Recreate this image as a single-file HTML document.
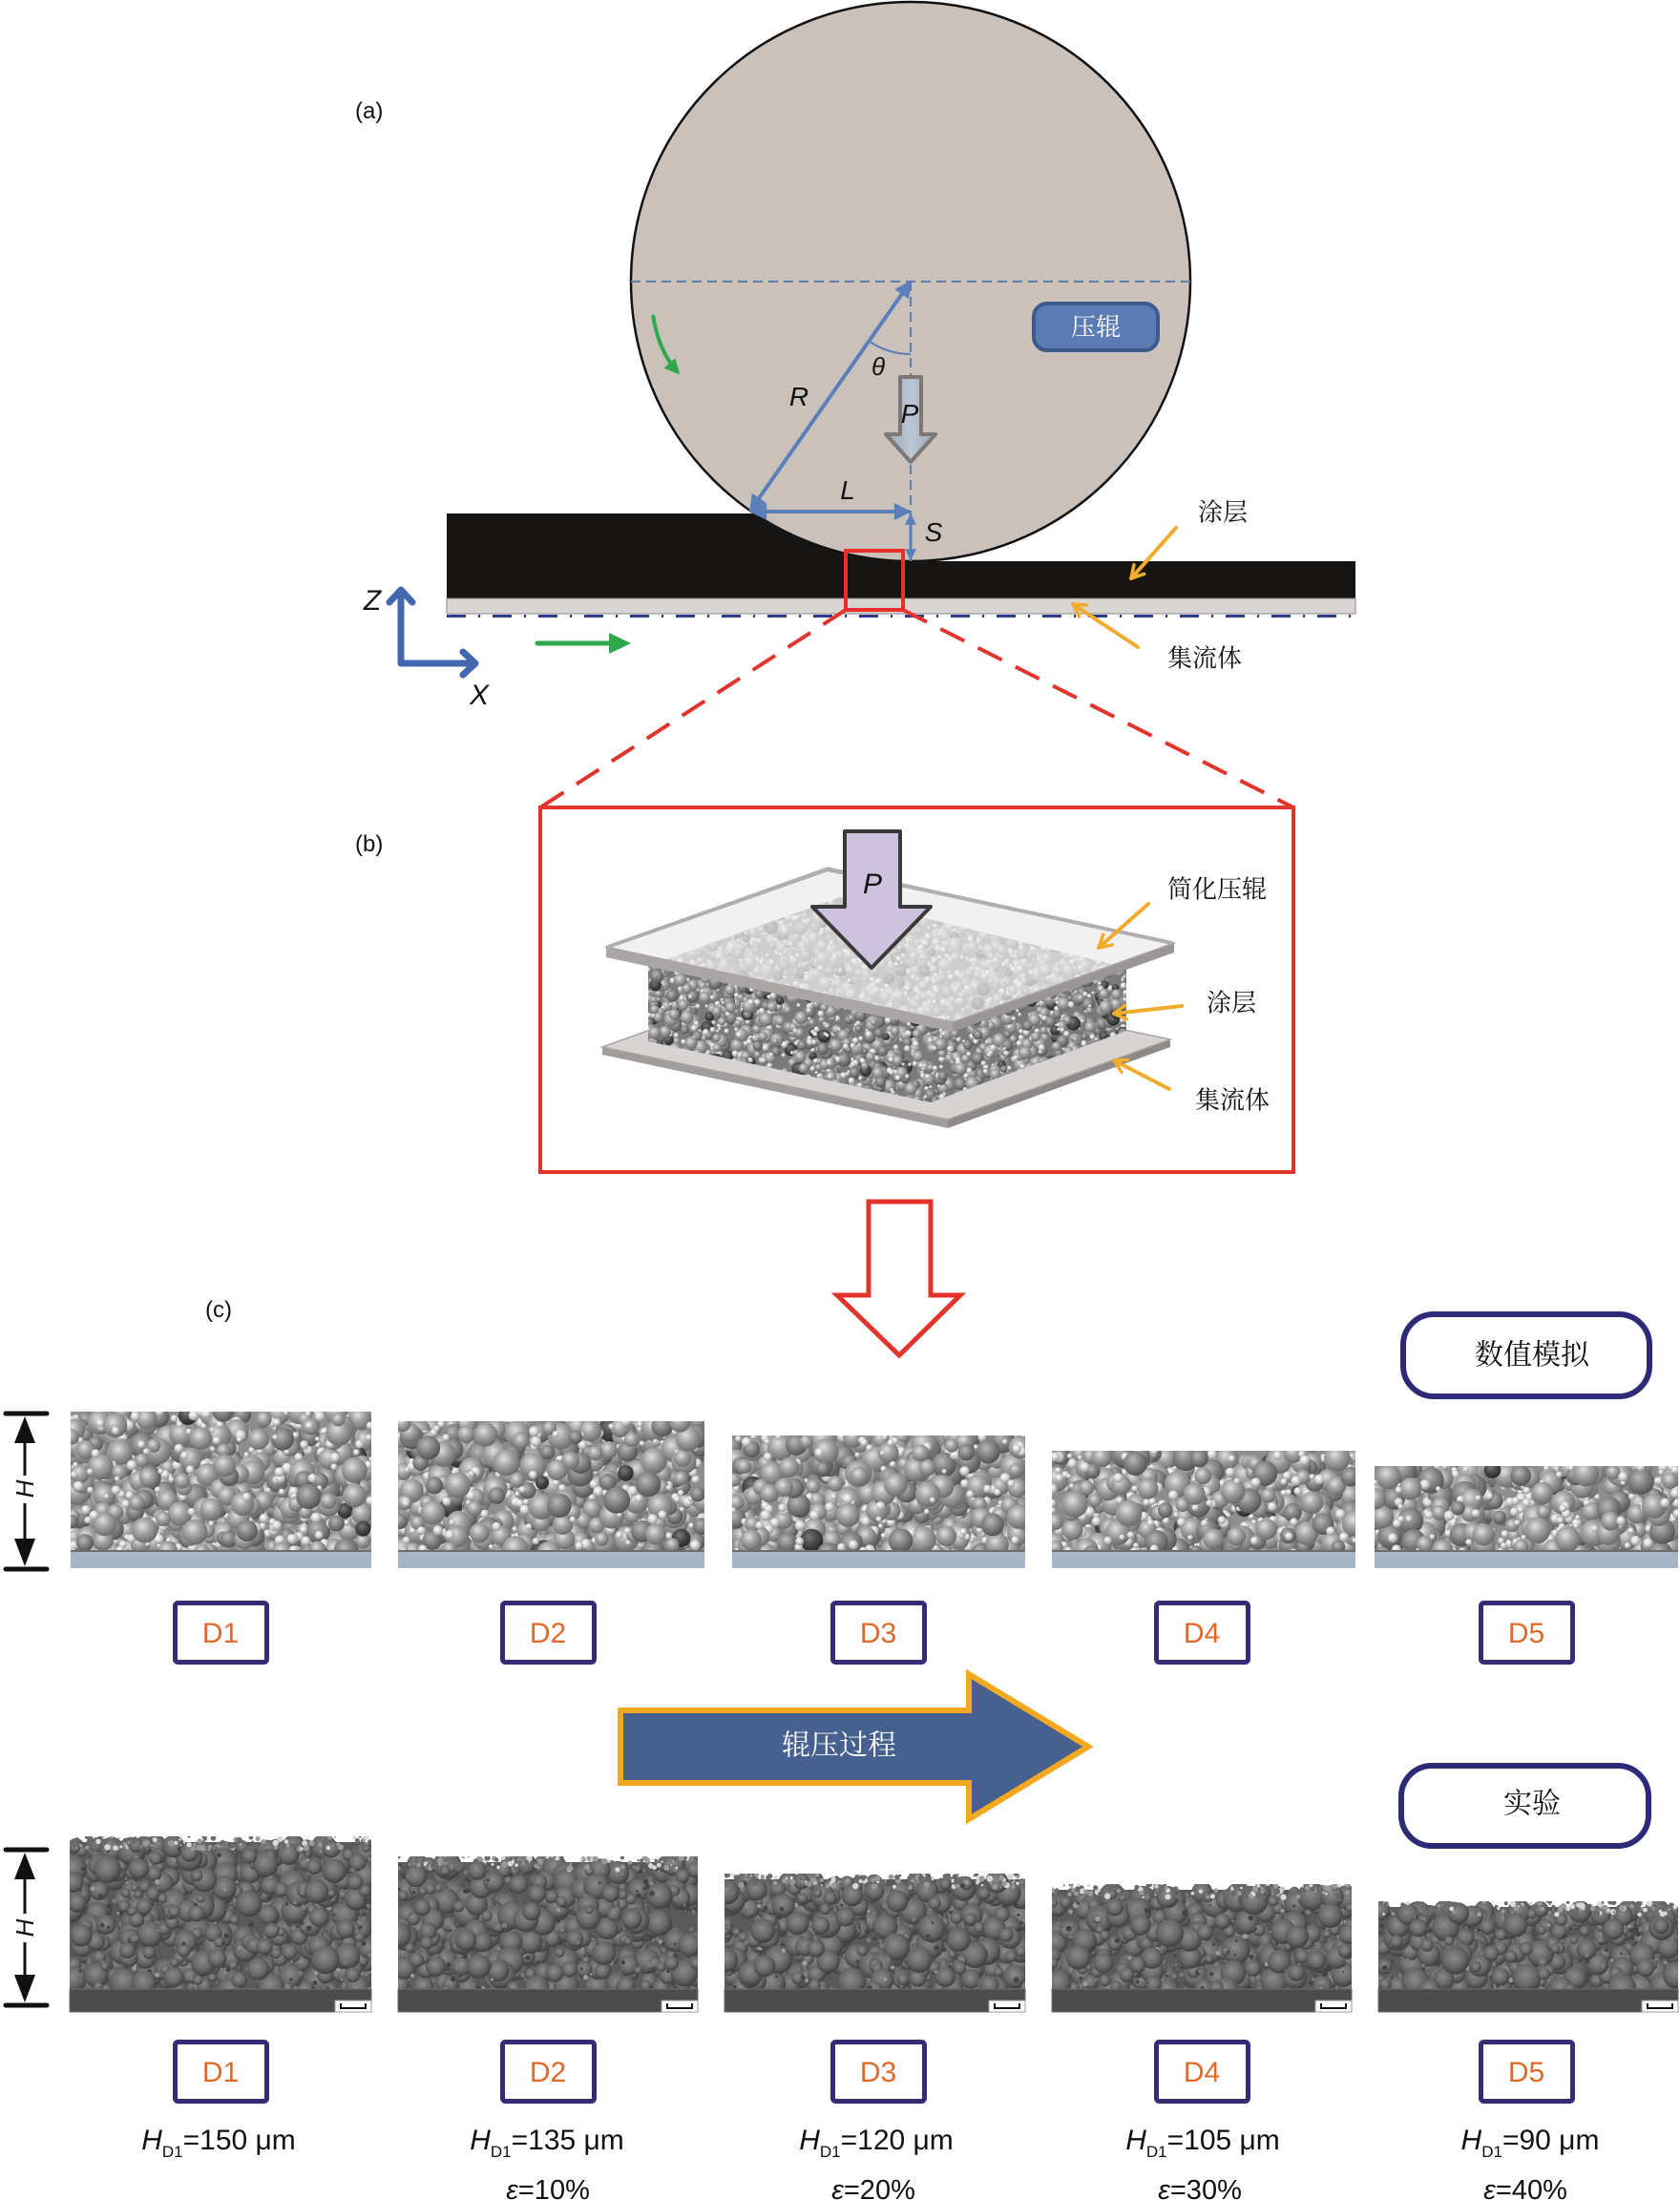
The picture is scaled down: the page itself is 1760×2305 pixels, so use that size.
<!DOCTYPE html>
<html>
<head>
<meta charset="utf-8">
<style>
  html,body{margin:0;padding:0;background:#fff;}
  svg{display:block;}
  .lat{font-family:"Liberation Sans",sans-serif;}
  .cjk{font-family:"Liberation Serif","Noto Serif CJK SC",serif;}
</style>
</head>
<body>
<svg id="root" xmlns="http://www.w3.org/2000/svg" width="1760" height="2305" viewBox="0 0 1760 2305">
<defs>
  <radialGradient id="gB" cx="40%" cy="35%" r="65%"><stop offset="0" stop-color="#e0e0e0"/><stop offset="0.45" stop-color="#a4a4a4"/><stop offset="1" stop-color="#6c6c6c"/></radialGradient>
  <radialGradient id="gM" cx="40%" cy="35%" r="65%"><stop offset="0" stop-color="#b8b8b8"/><stop offset="0.5" stop-color="#848484"/><stop offset="1" stop-color="#555"/></radialGradient>
  <radialGradient id="gD" cx="40%" cy="35%" r="65%"><stop offset="0" stop-color="#7a7a7a"/><stop offset="0.5" stop-color="#4a4a4a"/><stop offset="1" stop-color="#2a2a2a"/></radialGradient>
  <radialGradient id="gS" cx="40%" cy="35%" r="65%"><stop offset="0" stop-color="#ffffff"/><stop offset="0.5" stop-color="#d6d6d6"/><stop offset="1" stop-color="#949494"/></radialGradient>
  <radialGradient id="gE" cx="45%" cy="40%" r="60%"><stop offset="0" stop-color="#8a8a8a"/><stop offset="0.6" stop-color="#686868"/><stop offset="1" stop-color="#3e3e3e"/></radialGradient>
  <linearGradient id="pa" x1="0" y1="0" x2="1" y2="0"><stop offset="0" stop-color="#9aa7b9"/><stop offset="0.5" stop-color="#bcc6d2"/><stop offset="1" stop-color="#9aa7b9"/></linearGradient>

  <marker id="mb" viewBox="0 0 10 10" refX="9" refY="5" markerWidth="5.5" markerHeight="4.5" orient="auto-start-reverse"><path d="M0,0 L10,5 L0,10 z" fill="#5b7fb8"/></marker>
  <marker id="ms" viewBox="0 0 10 10" refX="9" refY="5" markerWidth="4.5" markerHeight="4" orient="auto-start-reverse"><path d="M0,0 L10,5 L0,10 z" fill="#5b7fb8"/></marker>
  <marker id="mo" viewBox="0 0 10 10" refX="8" refY="5" markerWidth="4.5" markerHeight="4.5" orient="auto"><path d="M1,1 L8,5 L1,9" fill="none" stroke="#f0ac2c" stroke-width="2" stroke-linecap="round" stroke-linejoin="round"/></marker>
  <marker id="mg" viewBox="0 0 10 10" refX="8" refY="5" markerWidth="4.5" markerHeight="4" orient="auto"><path d="M0,0 L10,5 L0,10 z" fill="#2ea84a"/></marker>

  <clipPath id="cs1"><rect x="74" y="1479" width="315" height="146"/></clipPath>
  <clipPath id="cs2"><rect x="417" y="1489" width="321" height="136"/></clipPath>
  <clipPath id="cs3"><rect x="767" y="1504" width="307" height="121"/></clipPath>
  <clipPath id="cs4"><rect x="1102" y="1520" width="318" height="105"/></clipPath>
  <clipPath id="cs5"><rect x="1440" y="1536" width="318" height="89"/></clipPath>
  <clipPath id="ce1"><rect x="73" y="1924" width="316" height="184"/></clipPath>
  <clipPath id="ce2"><rect x="417" y="1945" width="314" height="163"/></clipPath>
  <clipPath id="ce3"><rect x="759" y="1963" width="315" height="145"/></clipPath>
  <clipPath id="ce4"><rect x="1102" y="1974" width="314" height="134"/></clipPath>
  <clipPath id="ce5"><rect x="1444" y="1992" width="314" height="116"/></clipPath>
  <clipPath id="cblk"><polygon points="679,1012 880,940 1180,1014 1180,1080 975,1155 679,1091"/></clipPath>
</defs>

<!-- ================= (a) ================= -->
<text x="372" y="124" class="lat" font-size="24" fill="#111">(a)</text>

<circle cx="954" cy="295" r="293" fill="#cac1bb" stroke="#111" stroke-width="2.5"/>
<line x1="661" y1="295" x2="1247" y2="295" stroke="#5e7fae" stroke-width="2" stroke-dasharray="10 6"/>
<line x1="954" y1="295" x2="954" y2="588" stroke="#5e7fae" stroke-width="2" stroke-dasharray="10 6"/>

<path d="M468,538 L788,538 A293,293 0 0,0 954,588 L1420,588 L1420,627 L468,627 Z" fill="#161514"/>
<rect x="468" y="627" width="952" height="16" fill="#d9d5d5" stroke="#8a8686" stroke-width="1"/>
<line x1="468" y1="645.5" x2="1420" y2="645.5" stroke="#2e3a8c" stroke-width="3" stroke-dasharray="20 13 2 13"/>

<line x1="954" y1="295" x2="786" y2="535" stroke="#5b7fb8" stroke-width="4" marker-start="url(#mb)" marker-end="url(#mb)"/>
<path d="M910,357 A76,76 0 0,0 954,371" fill="none" stroke="#5b7fb8" stroke-width="2"/>
<text x="920" y="393" class="lat" font-size="26" font-style="italic" text-anchor="middle" fill="#111">θ</text>
<text x="837" y="425" class="lat" font-size="28" font-style="italic" text-anchor="middle" fill="#111">R</text>

<polygon points="943,395 965,395 965,455 980,455 954,484 928,455 943,455" fill="url(#pa)" stroke="#7d7875" stroke-width="4" stroke-linejoin="round"/>
<text x="953" y="443" class="lat" font-size="28" font-style="italic" text-anchor="middle" fill="#111">P</text>

<line x1="787" y1="536" x2="953" y2="536" stroke="#5b7fb8" stroke-width="4" marker-start="url(#mb)" marker-end="url(#mb)"/>
<text x="888" y="523" class="lat" font-size="28" font-style="italic" text-anchor="middle" fill="#111">L</text>
<line x1="954" y1="539" x2="954" y2="586" stroke="#5b7fb8" stroke-width="3" marker-start="url(#ms)" marker-end="url(#ms)"/>
<text x="978" y="567" class="lat" font-size="28" font-style="italic" text-anchor="middle" fill="#111">S</text>

<rect x="1083" y="318" width="130" height="49" rx="14" fill="#5b7bb5" stroke="#3d5a8c" stroke-width="4"/>
<text x="1148" y="343" class="cjk" font-size="26" fill="#fff" text-anchor="middle" dominant-baseline="central">压辊</text>

<path d="M684,330 Q690,368 710,390" fill="none" stroke="#2ea84a" stroke-width="4" marker-end="url(#mg)"/>

<rect x="886" y="577" width="60" height="62" fill="none" stroke="#e8302a" stroke-width="4"/>
<line x1="886" y1="639" x2="566" y2="846" stroke="#e3342c" stroke-width="4" stroke-dasharray="28 16"/>
<line x1="946" y1="639" x2="1355" y2="846" stroke="#e3342c" stroke-width="4" stroke-dasharray="28 16"/>

<path d="M420,619 L420,695 L496,695" fill="none" stroke="#4468b0" stroke-width="7" stroke-linecap="round" stroke-linejoin="round"/>
<path d="M408,631 L420,618 L432,631" fill="none" stroke="#4468b0" stroke-width="7" stroke-linecap="round" stroke-linejoin="round"/>
<path d="M485,683 L498,695 L485,707" fill="none" stroke="#4468b0" stroke-width="7" stroke-linecap="round" stroke-linejoin="round"/>
<text x="390" y="639" class="lat" font-size="30" font-style="italic" text-anchor="middle" fill="#111">Z</text>
<text x="502" y="738" class="lat" font-size="30" font-style="italic" text-anchor="middle" fill="#111">X</text>
<line x1="563" y1="674" x2="642" y2="674" stroke="#2ea84a" stroke-width="5" stroke-linecap="round"/>
<polygon points="638,663 661,674 638,685" fill="#2ea84a"/>

<text x="1281" y="537" class="cjk" font-size="26" text-anchor="middle" dominant-baseline="central" fill="#111">涂层</text>
<line x1="1232" y1="553" x2="1185" y2="606" stroke="#f0ac2c" stroke-width="4" stroke-linecap="round" marker-end="url(#mo)"/>
<text x="1262" y="690" class="cjk" font-size="26" text-anchor="middle" dominant-baseline="central" fill="#111">集流体</text>
<line x1="1192" y1="678" x2="1124" y2="633" stroke="#f0ac2c" stroke-width="4" stroke-linecap="round" marker-end="url(#mo)"/>

<!-- ================= (b) ================= -->
<text x="372" y="892" class="lat" font-size="24" fill="#111">(b)</text>
<rect x="566" y="846" width="789" height="382" fill="none" stroke="#e3342c" stroke-width="4"/>

<polygon points="631,1097 993,1173 993,1182 631,1105" fill="#a19d9d"/>
<polygon points="993,1173 1226,1089 1226,1097 993,1182" fill="#8e8a8a"/>
<polygon points="631,1097 863,1014 1226,1089 993,1173" fill="#d8d4d4" stroke="#a8a4a4" stroke-width="1.5"/>

<polygon points="679,1012 880,940 1180,1014 1180,1080 975,1155 679,1091" fill="#7a7a7a"/>
<g id="blk" clip-path="url(#cblk)"></g>

<polygon points="635,992 998,1071 998,1081 635,1003" fill="#aaa6a6"/>
<polygon points="998,1071 1230,988 1230,998 998,1081" fill="#9a9696"/>
<polygon points="635,992 867,909 1230,988 998,1071" fill="rgba(238,236,236,0.74)" stroke="#aaa6a6" stroke-width="1.5"/>
<polyline points="637,992 867,911 1228,988" fill="none" stroke="#b2aeae" stroke-width="4" stroke-linejoin="round"/>

<polygon points="885,871 943,871 943,950 975,950 913,1014 851,950 885,950" fill="#cdc3de" stroke="#3a3a3a" stroke-width="4" stroke-linejoin="round"/>
<text x="914" y="936" class="lat" font-size="30" font-style="italic" text-anchor="middle" fill="#111">P</text>

<text x="1275" y="932" class="cjk" font-size="26" text-anchor="middle" dominant-baseline="central" fill="#111">简化压辊</text>
<line x1="1203" y1="947" x2="1151" y2="993" stroke="#f0ac2c" stroke-width="4" stroke-linecap="round" marker-end="url(#mo)"/>
<text x="1290" y="1051" class="cjk" font-size="26" text-anchor="middle" dominant-baseline="central" fill="#111">涂层</text>
<line x1="1238" y1="1054" x2="1167" y2="1062" stroke="#f0ac2c" stroke-width="4" stroke-linecap="round" marker-end="url(#mo)"/>
<text x="1291" y="1153" class="cjk" font-size="26" text-anchor="middle" dominant-baseline="central" fill="#111">集流体</text>
<line x1="1225" y1="1141" x2="1167" y2="1111" stroke="#f0ac2c" stroke-width="4" stroke-linecap="round" marker-end="url(#mo)"/>

<polygon points="910,1259 975,1259 975,1357 1006,1357 942,1420 877,1357 910,1357" fill="#fff" stroke="#e3342c" stroke-width="5" stroke-linejoin="miter"/>

<!-- ================= (c) ================= -->
<text x="215" y="1380" class="lat" font-size="24" fill="#111">(c)</text>

<rect x="1470" y="1377" width="258" height="86" rx="32" fill="#fff" stroke="#2e2a78" stroke-width="6"/>
<text x="1605" y="1420" class="cjk" font-size="30" text-anchor="middle" dominant-baseline="central" fill="#111">数值模拟</text>

<g stroke="#111" fill="#111">
  <line x1="6" y1="1481" x2="49" y2="1481" stroke-width="5" stroke-linecap="round"/>
  <line x1="6" y1="1644" x2="49" y2="1644" stroke-width="5" stroke-linecap="round"/>
  <line x1="26" y1="1505" x2="26" y2="1546" stroke-width="3"/>
  <line x1="26" y1="1575" x2="26" y2="1620" stroke-width="3"/>
  <polygon points="26,1484 15,1512 37,1512" stroke="none"/>
  <polygon points="26,1641 15,1612 37,1612" stroke="none"/>
</g>
<text transform="translate(26,1560) rotate(-90)" class="lat" font-size="26" font-style="italic" text-anchor="middle" dominant-baseline="central" fill="#111">H</text>

<rect x="74" y="1479" width="315" height="146" fill="#8e8e8e"/><g id="s1" clip-path="url(#cs1)"></g>
<rect x="417" y="1489" width="321" height="136" fill="#8e8e8e"/><g id="s2" clip-path="url(#cs2)"></g>
<rect x="767" y="1504" width="307" height="121" fill="#8e8e8e"/><g id="s3" clip-path="url(#cs3)"></g>
<rect x="1102" y="1520" width="318" height="105" fill="#8e8e8e"/><g id="s4" clip-path="url(#cs4)"></g>
<rect x="1440" y="1536" width="318" height="89" fill="#8e8e8e"/><g id="s5" clip-path="url(#cs5)"></g>
<g fill="#a6b6c6">
  <rect x="74" y="1625" width="315" height="18"/>
  <rect x="417" y="1625" width="321" height="18"/>
  <rect x="767" y="1625" width="307" height="18"/>
  <rect x="1102" y="1625" width="318" height="18"/>
  <rect x="1440" y="1625" width="318" height="18"/>
</g>
<g fill="#6d6d6d">
  <rect x="74" y="1624" width="315" height="2"/>
  <rect x="417" y="1624" width="321" height="2"/>
  <rect x="767" y="1624" width="307" height="2"/>
  <rect x="1102" y="1624" width="318" height="2"/>
  <rect x="1440" y="1624" width="318" height="2"/>
</g>

<g fill="#fff" stroke="#362c75" stroke-width="5">
  <rect x="183.5" y="1679.5" width="96" height="62" rx="3"/>
  <rect x="526.5" y="1679.5" width="96" height="62" rx="3"/>
  <rect x="872.5" y="1679.5" width="96" height="62" rx="3"/>
  <rect x="1211.5" y="1679.5" width="96" height="62" rx="3"/>
  <rect x="1551.5" y="1679.5" width="96" height="62" rx="3"/>
</g>
<g class="lat" font-size="30" fill="#e06828" text-anchor="middle">
  <text x="231" y="1721">D1</text>
  <text x="574" y="1721">D2</text>
  <text x="920" y="1721">D3</text>
  <text x="1259" y="1721">D4</text>
  <text x="1599" y="1721">D5</text>
</g>

<polygon points="650,1792 1015,1792 1015,1754 1140,1830 1015,1906 1015,1868 650,1868" fill="#46618f" stroke="#f3a91f" stroke-width="6" stroke-linejoin="miter"/>
<text x="879" y="1829" class="cjk" font-size="30" fill="#fff" text-anchor="middle" dominant-baseline="central">辊压过程</text>

<rect x="1468" y="1850" width="259" height="84" rx="32" fill="#fff" stroke="#2e2a78" stroke-width="6"/>
<text x="1605" y="1890" class="cjk" font-size="30" text-anchor="middle" dominant-baseline="central" fill="#111">实验</text>

<g stroke="#111" fill="#111">
  <line x1="6" y1="1938" x2="49" y2="1938" stroke-width="5" stroke-linecap="round"/>
  <line x1="6" y1="2101" x2="49" y2="2101" stroke-width="5" stroke-linecap="round"/>
  <line x1="26" y1="1962" x2="26" y2="2005" stroke-width="3"/>
  <line x1="26" y1="2035" x2="26" y2="2078" stroke-width="3"/>
  <polygon points="26,1941 15,1969 37,1969" stroke="none"/>
  <polygon points="26,2098 15,2069 37,2069" stroke="none"/>
</g>
<text transform="translate(26,2020) rotate(-90)" class="lat" font-size="26" font-style="italic" text-anchor="middle" dominant-baseline="central" fill="#111">H</text>

<rect x="73" y="1930" width="316" height="178" fill="#5a5a5a"/><g id="e1" clip-path="url(#ce1)"></g>
<rect x="417" y="1951" width="314" height="157" fill="#5a5a5a"/><g id="e2" clip-path="url(#ce2)"></g>
<rect x="759" y="1969" width="315" height="139" fill="#5a5a5a"/><g id="e3" clip-path="url(#ce3)"></g>
<rect x="1102" y="1980" width="314" height="128" fill="#5a5a5a"/><g id="e4" clip-path="url(#ce4)"></g>
<rect x="1444" y="1998" width="314" height="110" fill="#5a5a5a"/><g id="e5" clip-path="url(#ce5)"></g>
<g fill="#4c4c4c" stroke="#6e6e6e" stroke-width="1">
  <rect x="73" y="2084" width="316" height="24"/>
  <rect x="417" y="2084" width="314" height="24"/>
  <rect x="759" y="2084" width="315" height="24"/>
  <rect x="1102" y="2084" width="314" height="24"/>
  <rect x="1444" y="2084" width="314" height="24"/>
</g>
<g>
  <rect x="351" y="2096" width="38" height="12" fill="#fff" stroke="#999" stroke-width="1"/>
  <rect x="693" y="2096" width="38" height="12" fill="#fff" stroke="#999" stroke-width="1"/>
  <rect x="1036" y="2096" width="38" height="12" fill="#fff" stroke="#999" stroke-width="1"/>
  <rect x="1378" y="2096" width="38" height="12" fill="#fff" stroke="#999" stroke-width="1"/>
  <rect x="1720" y="2096" width="38" height="12" fill="#fff" stroke="#999" stroke-width="1"/>
</g>
<g fill="none" stroke="#111" stroke-width="2">
  <path d="M357,2099 L357,2104 L383,2104 L383,2099"/>
  <path d="M699,2099 L699,2104 L725,2104 L725,2099"/>
  <path d="M1042,2099 L1042,2104 L1068,2104 L1068,2099"/>
  <path d="M1384,2099 L1384,2104 L1410,2104 L1410,2099"/>
  <path d="M1726,2099 L1726,2104 L1752,2104 L1752,2099"/>
</g>

<g fill="#fff" stroke="#362c75" stroke-width="5">
  <rect x="183.5" y="2139.5" width="96" height="62" rx="3"/>
  <rect x="526.5" y="2139.5" width="96" height="62" rx="3"/>
  <rect x="872.5" y="2139.5" width="96" height="62" rx="3"/>
  <rect x="1211.5" y="2139.5" width="96" height="62" rx="3"/>
  <rect x="1551.5" y="2139.5" width="96" height="62" rx="3"/>
</g>
<g class="lat" font-size="30" fill="#e06828" text-anchor="middle">
  <text x="231" y="2181">D1</text>
  <text x="574" y="2181">D2</text>
  <text x="920" y="2181">D3</text>
  <text x="1259" y="2181">D4</text>
  <text x="1599" y="2181">D5</text>
</g>

<g class="lat" font-size="30" fill="#111" text-anchor="middle">
  <text x="229" y="2252"><tspan font-style="italic">H</tspan><tspan font-size="17" dy="8">D1</tspan><tspan dy="-8">=150 μm</tspan></text>
  <text x="573" y="2252"><tspan font-style="italic">H</tspan><tspan font-size="17" dy="8">D1</tspan><tspan dy="-8">=135 μm</tspan></text>
  <text x="918" y="2252"><tspan font-style="italic">H</tspan><tspan font-size="17" dy="8">D1</tspan><tspan dy="-8">=120 μm</tspan></text>
  <text x="1260" y="2252"><tspan font-style="italic">H</tspan><tspan font-size="17" dy="8">D1</tspan><tspan dy="-8">=105 μm</tspan></text>
  <text x="1603" y="2252"><tspan font-style="italic">H</tspan><tspan font-size="17" dy="8">D1</tspan><tspan dy="-8">=90 μm</tspan></text>
</g>
<g class="lat" font-size="29" fill="#111" text-anchor="middle">
  <text x="574" y="2304"><tspan font-style="italic">ε</tspan>=10%</text>
  <text x="915" y="2304"><tspan font-style="italic">ε</tspan>=20%</text>
  <text x="1257" y="2304"><tspan font-style="italic">ε</tspan>=30%</text>
  <text x="1598" y="2304"><tspan font-style="italic">ε</tspan>=40%</text>
</g>
</svg>

<script>
(function(){
var NS='http://www.w3.org/2000/svg';
function R(s){return function(){s|=0;s=s+0x6D2B79F5|0;var t=Math.imul(s^s>>>15,1|s);t=t+Math.imul(t^t>>>7,61|t)^t;return((t^t>>>14)>>>0)/4294967296;};}
function C(g,x,y,r,f){var c=document.createElementNS(NS,'circle');c.setAttribute('cx',x.toFixed(1));c.setAttribute('cy',y.toFixed(1));c.setAttribute('r',r.toFixed(1));c.setAttribute('fill',f);g.appendChild(c);}
function sim(id,x,y,w,h,seed){
  var g=document.getElementById(id);if(!g)return;var r=R(seed);var n=Math.round(w*h/50);
  for(var i=0;i<n;i++){
    var cx=x+r()*w,cy=y+r()*(h+4);
    if(r()<0.5){var q=r();C(g,cx,cy,7+r()*7,q<0.02?'url(#gD)':q<0.3?'url(#gM)':'url(#gB)');}
    else{C(g,cx,cy,2.5+r()*3,'url(#gS)');}
  }
}
function sem(id,x,y,w,h,seed){
  var g=document.getElementById(id);if(!g)return;var r=R(seed);
  var n=Math.round(w*h/75);
  for(var i=0;i<n;i++){
    var cx=x+r()*w,cy=y+8+r()*(h-30);
    if(r()<0.6){C(g,cx,cy,4+r()*11,'url(#gE)');}
    else{var v=r();C(g,cx,cy,1+r()*2,v<0.45?'#444':v<0.85?'#7a7a7a':'#9a9a9a');}
  }
  for(var j=0;j<Math.round(w/2.5);j++){
    var sx=x+r()*w,sy=y+r()*14;var v2=r();
    C(g,sx,sy,0.8+r()*2.5,v2<0.4?'#6a6a6a':v2<0.75?'#9a9a9a':'#d8d8d8');
  }
}
function blk(){
  var g=document.getElementById('blk');if(!g)return;var r=R(77);
  for(var i=0;i<3200;i++){
    var cx=679+r()*501,cy=935+r()*222;
    if(r()<0.55){var q=r();C(g,cx,cy,3.5+r()*4,q<0.08?'url(#gD)':q<0.4?'url(#gM)':'url(#gB)');}
    else{C(g,cx,cy,1.5+r()*2,'url(#gS)');}
  }
}
sim('s1',74,1479,315,146,11);
sim('s2',417,1489,321,136,22);
sim('s3',767,1504,307,121,33);
sim('s4',1102,1520,318,105,44);
sim('s5',1440,1536,318,89,55);
sem('e1',73,1924,316,184,101);
sem('e2',417,1945,314,163,202);
sem('e3',759,1963,315,145,303);
sem('e4',1102,1974,314,134,404);
sem('e5',1444,1992,314,116,505);
blk();
})();
</script>
</body>
</html>
